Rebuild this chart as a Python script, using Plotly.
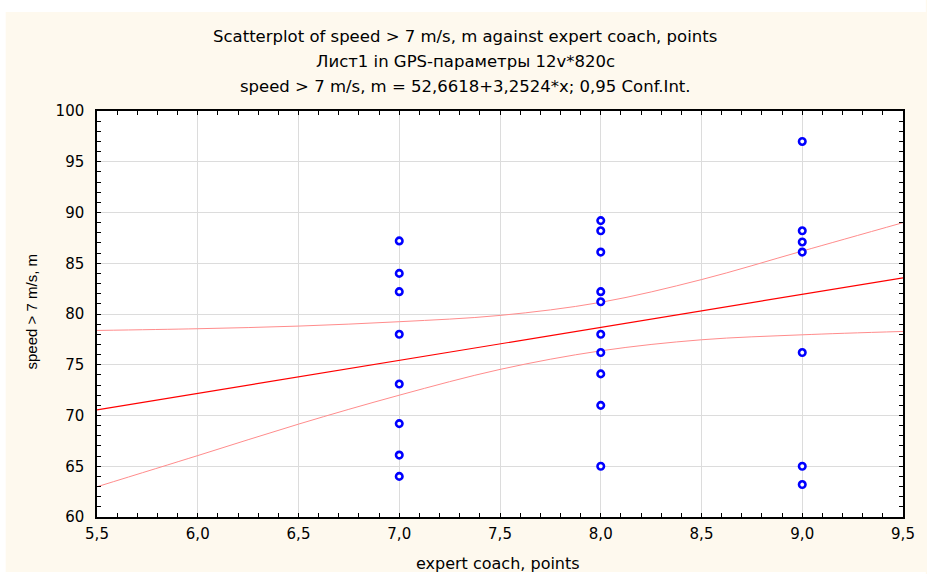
import plotly.graph_objects as go

# ---- data ----
x_coach = [7, 7, 7, 7, 7, 7, 7, 7,
           8, 8, 8, 8, 8, 8, 8, 8, 8, 8,
           9, 9, 9, 9, 9, 9, 9]
y_speed = [87.2, 84.0, 82.2, 78.0, 73.1, 69.2, 66.1, 64.0,
           89.2, 88.2, 86.1, 82.2, 81.2, 78.0, 76.2, 74.1, 71.0, 65.0,
           97.0, 88.2, 87.1, 86.1, 76.2, 65.0, 63.2]

fit_x = [5.5, 9.5]
fit_y = [70.55, 83.56]

ci_x = [5.5, 6.0, 6.5, 7.0, 7.5, 8.0, 8.5, 9.0, 9.5]
ci_upper = [78.38, 78.55, 78.81, 79.24, 79.86, 81.15, 83.39, 86.2, 89.0]
ci_lower = [62.98, 66.05, 69.15, 72.0, 74.54, 76.37, 77.46, 77.95, 78.28]

x_tickvals = [5.5, 6.0, 6.5, 7.0, 7.5, 8.0, 8.5, 9.0, 9.5]
x_ticktext = ["5,5", "6,0", "6,5", "7,0", "7,5", "8,0", "8,5", "9,0", "9,5"]
y_tickvals = [60, 65, 70, 75, 80, 85, 90, 95, 100]
y_ticktext = ["60", "65", "70", "75", "80", "85", "90", "95", "100"]

title_lines = [
    "Scatterplot of speed > 7 m/s, m against expert coach, points",
    "Лист1 in GPS-параметры 12v*820c",
    "speed > 7 m/s, m = 52,6618+3,2524*x; 0,95 Conf.Int.",
]
x_title = "expert coach, points"
y_title = "speed > 7 m/s, m"

# ---- figure ----
W, H = 927, 574
L, R, T, B = 97, 18, 111, 57
PW, PH = W - L - R, H - T - B

def px_x(x):
    return (x - L) / PW

def px_y(y):
    return (H - B - y) / PH

FONT = "DejaVu Sans"
CREAM = "#FEF9EE"

fig = go.Figure()
fig.add_trace(go.Scatter(x=ci_x, y=ci_upper, mode="lines", line=dict(color="#FF8C8C", width=1, shape="spline"),
                         hoverinfo="skip", showlegend=False))
fig.add_trace(go.Scatter(x=ci_x, y=ci_lower, mode="lines", line=dict(color="#FF8C8C", width=1, shape="spline"),
                         hoverinfo="skip", showlegend=False))
fig.add_trace(go.Scatter(x=fit_x, y=fit_y, mode="lines", line=dict(color="#FF0000", width=1.2),
                         hoverinfo="skip", showlegend=False))
fig.add_trace(go.Scatter(x=x_coach, y=y_speed, mode="markers",
                         marker=dict(symbol="circle", size=6.5, color="white",
                                     line=dict(color="#0000FF", width=2.6)),
                         showlegend=False))

axis_common = dict(
    showline=True, linecolor="black", linewidth=1.5, mirror="ticks",
    ticks="inside", ticklen=4, tickcolor="black", tickwidth=1,
    showgrid=True, gridcolor="#DCDCDC", gridwidth=1, zeroline=False,
    tickfont=dict(family=FONT, size=15, color="black"),
)

fig.update_xaxes(range=[5.5, 9.5], tickvals=x_tickvals, ticktext=x_ticktext,
                 minor=dict(ticks="inside", dtick=0.1, tick0=5.5, ticklen=4, tickcolor="black", showgrid=False),
                 ticklabelstandoff=2, **axis_common)
fig.update_yaxes(range=[60, 100], tickvals=y_tickvals, ticktext=y_ticktext,
                 minor=dict(ticks="inside", dtick=1, tick0=60, ticklen=4, tickcolor="black", showgrid=False),
                 ticklabelstandoff=8, **axis_common)

annotations = []
title_y = [37, 61, 86]
for txt, yy in zip(title_lines, title_y):
    annotations.append(dict(text=txt, x=px_x(468), y=px_y(yy), xref="paper", yref="paper",
                            xanchor="center", yanchor="middle", showarrow=False,
                            font=dict(family=FONT, size=16.5, color="black")))
annotations.append(dict(text=x_title, x=px_x(501), y=px_y(563), xref="paper", yref="paper",
                        xanchor="center", yanchor="middle", showarrow=False,
                        font=dict(family=FONT, size=16, color="black")))
annotations.append(dict(text=y_title, x=px_x(31), y=px_y(312), xref="paper", yref="paper",
                        xanchor="center", yanchor="middle", showarrow=False, textangle=-90,
                        font=dict(family="Liberation Sans", size=15, color="black")))

shapes = [
    dict(type="rect", xref="paper", yref="paper", x0=px_x(-5), x1=px_x(W + 5), y0=px_y(12), y1=px_y(-5),
         fillcolor="white", line=dict(width=0), layer="below"),
    dict(type="rect", xref="paper", yref="paper", x0=px_x(-5), x1=px_x(5), y0=px_y(H + 5), y1=px_y(-5),
         fillcolor="white", line=dict(width=0), layer="below"),
    dict(type="rect", xref="paper", yref="paper", x0=px_x(-5), x1=px_x(W + 5), y0=px_y(H + 5), y1=px_y(572),
         fillcolor="white", line=dict(width=0), layer="below"),
]

fig.update_layout(
    width=W, height=H,
    margin=dict(l=L, r=R, t=T, b=B, pad=0),
    paper_bgcolor=CREAM, plot_bgcolor="white",
    annotations=annotations, shapes=shapes,
    font=dict(family=FONT, size=14, color="black"),
    showlegend=False,
)

fig.write_html("out.html",
               config={"displayModeBar": False},
               post_script="document.body.style.margin='0';document.body.style.padding='0';"
                           "document.body.style.overflow='hidden';")
